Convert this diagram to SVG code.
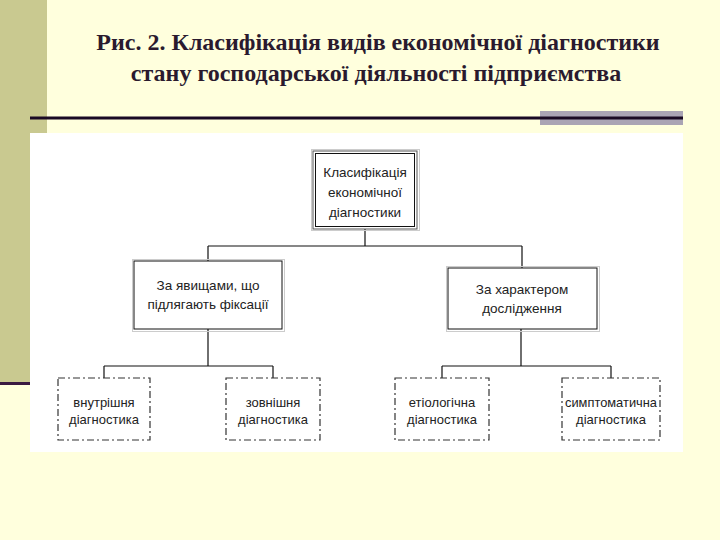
<svg xmlns="http://www.w3.org/2000/svg" width="720" height="540" viewBox="0 0 720 540">
<style>
.title{font-family:"Liberation Serif","Times New Roman",serif;font-weight:bold;font-size:24px;fill:#2a1a2e;text-anchor:middle}
.t{font-family:"Liberation Sans",Arial,sans-serif;font-size:13.5px;fill:#222;text-anchor:middle}
.s{font-size:13px}
.box{fill:#fff;stroke:#111;stroke-width:1}
.shadow{fill:none;stroke:#ccc;stroke-width:1}
.leaf{fill:#fff;stroke:#333;stroke-width:1.2;stroke-dasharray:7 3 2 3}
.conn{fill:none;stroke:#111;stroke-width:1.2}
</style>
<rect x="0" y="0" width="720" height="540" fill="#ffffdd"/>
<rect x="0" y="0" width="47" height="383" fill="#c9c990"/>
<rect x="0" y="382" width="30" height="3" fill="#3a1a40"/>
<rect x="540" y="111" width="143" height="14" fill="#aaa4b4"/>
<rect x="30" y="116.5" width="653" height="3" fill="#1a0a24"/>
<rect x="30" y="133" width="653" height="319" fill="#ffffff"/>
<text class="title" x="378" y="50">Рис. 2. Класифікація видів економічної діагностики</text>
<text class="title" x="376" y="81">стану господарської діяльності підприємства</text>
<g id="connectors">
<path class="conn" d="M365 229 V246 M208 246 H522 M208 246 V261 M522 246 V268"/>
<path class="conn" d="M208 329 V366 M104 366 H273 M104 366 V378 M273 366 V378"/>
<path class="conn" d="M521 329 V366 M442 366 H611 M442 366 V378 M611 366 V378"/>
</g>
<g id="root">
<rect class="shadow" x="311.5" y="149.5" width="108" height="81"/>
<rect x="313" y="151" width="104" height="78" fill="#fff" stroke="#555" stroke-width="1"/>
<rect x="315.5" y="153.5" width="99" height="73" fill="none" stroke="#111" stroke-width="1"/>
<text class="t" x="365" y="177">Класифікація</text>
<text class="t" x="365" y="197">економічної</text>
<text class="t" x="365" y="217">діагностики</text>
</g>
<g id="by-phenomena">
<rect class="shadow" x="132.5" y="259.5" width="152" height="72"/>
<rect class="box" x="134" y="261" width="148" height="68"/>
<text class="t" x="208" y="290">За явищами, що</text>
<text class="t" x="208" y="309">підлягають фіксації</text>
</g>
<g id="by-research">
<rect class="shadow" x="446.5" y="266.5" width="153" height="65"/>
<rect class="box" x="448" y="268" width="149" height="61"/>
<text class="t" x="522" y="294">За характером</text>
<text class="t" x="522" y="313">дослідження</text>
</g>
<g id="internal">
<rect class="leaf" x="58" y="378" width="92" height="62"/>
<text class="t s" x="104" y="407">внутрішня</text>
<text class="t s" x="104" y="424">діагностика</text>
</g>
<g id="external">
<rect class="leaf" x="226" y="378" width="94" height="62"/>
<text class="t s" x="273" y="407">зовнішня</text>
<text class="t s" x="273" y="424">діагностика</text>
</g>
<g id="etiological">
<rect class="leaf" x="395" y="378" width="94" height="62"/>
<text class="t s" x="442" y="407">етіологічна</text>
<text class="t s" x="442" y="424">діагностика</text>
</g>
<g id="symptomatic">
<rect class="leaf" x="562" y="378" width="98" height="62"/>
<text class="t s" x="611" y="407" textLength="92" lengthAdjust="spacingAndGlyphs">симптоматична</text>
<text class="t s" x="611" y="424">діагностика</text>
</g>
</svg>
